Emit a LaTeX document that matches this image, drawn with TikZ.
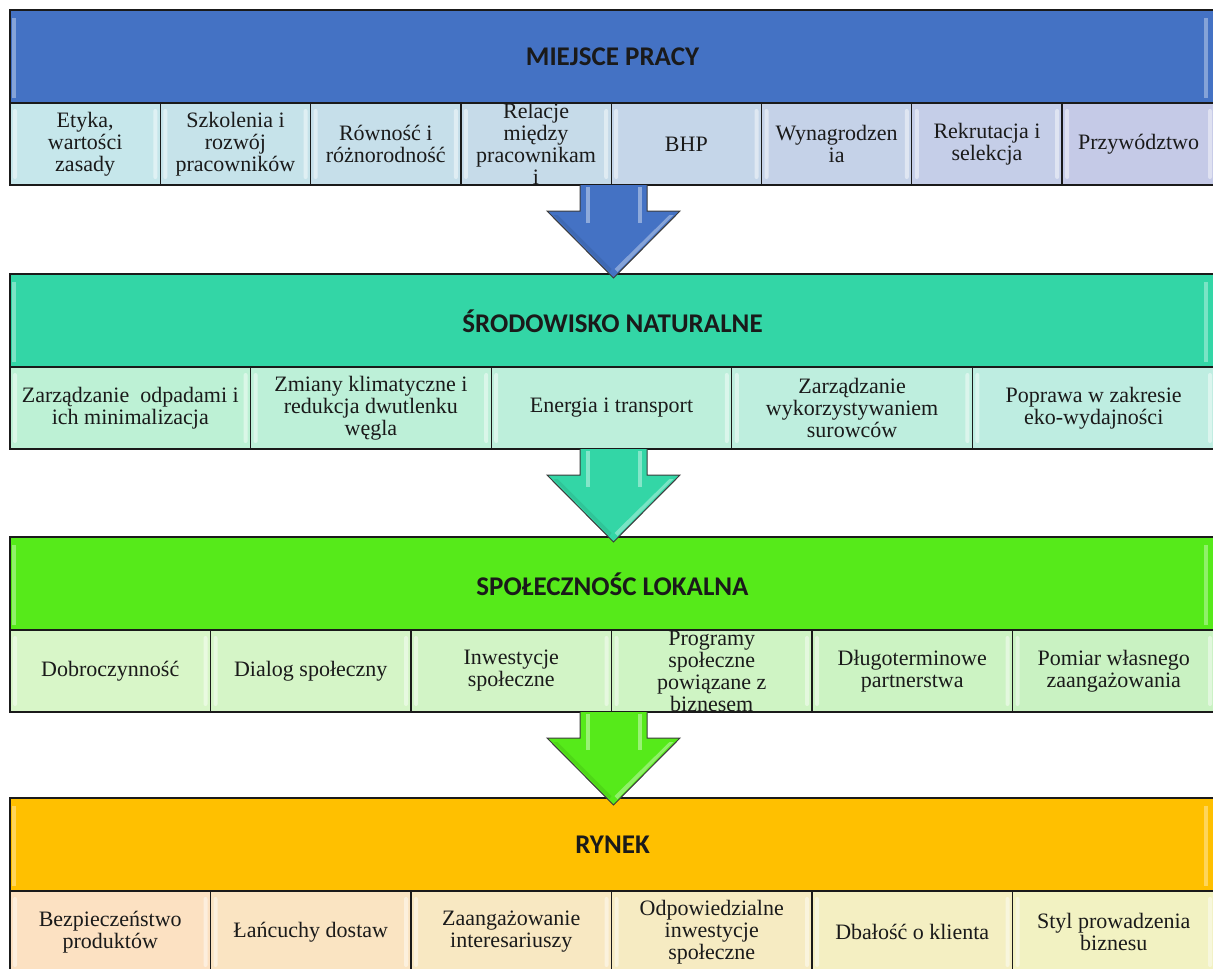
\documentclass[tikz,border=0pt]{standalone}
\usepackage{fontspec}
\setmainfont{Liberation Serif}
\newfontfamily\titlefont{Carlito}
\usetikzlibrary{calc}

% header colours
\definecolor{hdrA}{HTML}{4472C4}
\definecolor{hdrB}{HTML}{33D6A6}
\definecolor{hdrC}{HTML}{56EA1A}
\definecolor{hdrD}{HTML}{FFC000}
% cell colours, left and right end of each row
\definecolor{aL}{HTML}{C6E7EB}\definecolor{aR}{HTML}{C5CAE7}
\definecolor{bL}{HTML}{BDF1D5}\definecolor{bR}{HTML}{BEEDE1}
\definecolor{cL}{HTML}{D8F6C8}\definecolor{cR}{HTML}{C9F2C2}
\definecolor{dL}{HTML}{FCE1C2}\definecolor{dR}{HTML}{F2F2C2}
\definecolor{ink}{HTML}{1A1A1A}

\tikzset{
  celltext/.style={inner sep=0pt, align=center, text=ink,
    font=\fontsize{22}{22}\selectfont},
  bandtitle/.style={inner sep=0pt, text=ink,
    font=\titlefont\bfseries\fontsize{27}{27}\selectfont},
  outline/.style={draw=ink, line width=1.3pt},
  gleam/.style={fill=white, opacity=.45, rounded corners=2pt},
}

% #1 name, #2 top, #3 number of cells, #4 cell width, #5 header colour,
% #6 left cell colour, #7 right cell colour, #8 title, #9 cell texts
\newcommand\drawband[9]{%
  \foreach \t [count=\i from 0,
      evaluate=\i as \p using {int(round(\i*100/(#3-1)))},
      evaluate=\i as \xa using {10+\i*#4}] in {#9} {
    \pgfmathsetmacro\xb{ifthenelse(\i==#3-1,1215,\xa+#4)}
    \colorlet{cellfill}{#7!\p!#6}
    \fill[cellfill] (\xa,#2+93) rectangle (\xb,#2+175);
    \fill[gleam] (\xa+3,#2+99) rectangle (\xa+7,#2+169);
    \fill[gleam] (\xb-7,#2+99) rectangle (\xb-3,#2+169);
    \begin{scope}
      \clip (\xa,#2+93) rectangle (\xb,#2+175);
      \node[celltext] (#1-\i) at ({(\xa+\xb)/2},#2+134) {\t};
    \end{scope}
    \ifnum\i>0 \draw[outline] (\xa,#2+93) -- (\xa,#2+175); \fi
  }
  \fill[#5] (10,#2) rectangle (1215,#2+93);
  \fill[white, opacity=.35] (12,#2+8) rectangle (16,#2+88);
  \fill[white, opacity=.35] (1204,#2+8) rectangle (1208,#2+88);
  \node[bandtitle] (#1) at (612.5,#2+47) {#8};
  \draw[outline] (10,#2+93) -- (1215,#2+93);
  \draw[outline] (10,#2) rectangle (1215,#2+175);
}

% block arrow hanging from a named point
\newcommand\blockarrow[2]{%
  \fill[#2, shift={(#1)}] (-33.5,0) -- (33.5,0) -- (33.5,26) -- (66.5,26)
     -- (0,93) -- (-66.5,26) -- (-33.5,26) -- cycle;
  \fill[white, opacity=.4, shift={(#1)}] (-28,2) rectangle (-24,38);
  \fill[white, opacity=.4, shift={(#1)}] (24,2) rectangle (28,38);
  \fill[white, opacity=.35, shift={(#1)}] (56,30) -- (60,30) -- (4,87) -- (1,84) -- cycle;
  \fill[black, opacity=.08, shift={(#1)}] (-60,30) -- (-56,30) -- (-2,84) -- (-4,87) -- cycle;
  \draw[draw=ink!85, line width=1pt, line join=miter, shift={(#1)}]
     (-33.5,0) -- (-33.5,26) -- (-66.5,26) -- (0,93) -- (66.5,26) -- (33.5,26) -- (33.5,0);
}

\begin{document}
\begin{tikzpicture}[x=1pt, y=-1pt]
\useasboundingbox (0,0) rectangle (1213,969);
\clip (0,0) rectangle (1213,969);

\drawband{praca}{10}{8}{150.3}{hdrA}{aL}{aR}{MIEJSCE PRACY}{
  {Etyka,\\wartości\\zasady},
  {Szkolenia i\\rozwój\\pracowników},
  {Równość i\\różnorodność},
  {Relacje\\między\\pracownikam\\i},
  {BHP},
  {Wynagrodzen\\ia},
  {Rekrutacja i\\selekcja},
  {Przywództwo}}

\drawband{srodowisko}{274}{5}{240.6}{hdrB}{bL}{bR}{ŚRODOWISKO NATURALNE}{
  {Zarządzanie~~odpadami i\\ich minimalizacja},
  {Zmiany klimatyczne i\\redukcja dwutlenku\\węgla},
  {Energia i transport},
  {Zarządzanie\\wykorzystywaniem\\surowców},
  {Poprawa w zakresie\\eko-wydajności}}

\drawband{spolecznosc}{537}{6}{200.5}{hdrC}{cL}{cR}{SPOŁECZNOŚC LOKALNA}{
  {Dobroczynność},
  {Dialog społeczny},
  {Inwestycje\\społeczne},
  {Programy\\społeczne\\powiązane z\\biznesem},
  {Długoterminowe\\partnerstwa},
  {Pomiar własnego\\zaangażowania}}

\drawband{rynek}{798}{6}{200.5}{hdrD}{dL}{dR}{RYNEK}{
  {Bezpieczeństwo\\produktów},
  {Łańcuchy dostaw},
  {Zaangażowanie\\interesariuszy},
  {Odpowiedzialne\\inwestycje\\społeczne},
  {Dbałość o klienta},
  {Styl prowadzenia\\biznesu}}

% arrows between the bands
\coordinate (arrA) at (613.5,185);
\coordinate (arrB) at (613.5,449);
\coordinate (arrC) at (613.5,712);
\blockarrow{arrA}{hdrA}
\blockarrow{arrB}{hdrB}
\blockarrow{arrC}{hdrC}
\end{tikzpicture}
\end{document}
